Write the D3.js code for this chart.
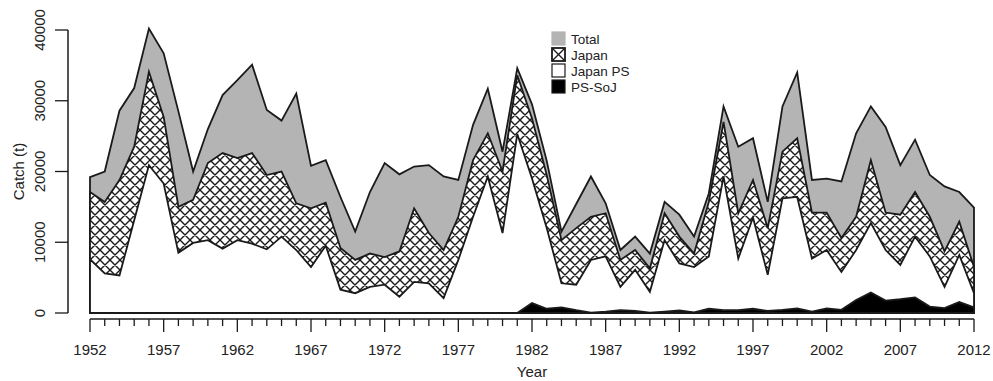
<!DOCTYPE html>
<html>
<head>
<meta charset="utf-8">
<script src="https://cdn.jsdelivr.net/npm/d3@7/dist/d3.min.js"></script>
<style>
  html, body { margin: 0; padding: 0; background: #fff; }
  svg { display: block; }
  text { font-family: "Liberation Sans", Arial, Helvetica, sans-serif; fill: #222; }
</style>
</head>
<body>
<svg id="chart" width="993" height="381"></svg>
<script>
// Catch by year (tonnes)
const years = d3.range(1952, 2013);

const total = [
  19200, 20000, 28600, 31800, 40200, 36700, 28500, 20000, 26000, 30800,
  32900, 35100, 28700, 27200, 31000, 20800, 21600, 16400, 11500, 17100,
  21200, 19600, 20700, 20900, 19300, 18800, 26600, 31700, 22800, 34600,
  29500, 21500, 11500, 15400, 19300, 15500, 8900, 10800, 8400, 15700,
  13900, 10800, 16900, 29200, 23500, 24700, 15700, 29200, 34000, 18800,
  19000, 18600, 25400, 29200, 26300, 20900, 24500, 19500, 17900, 17100,
  14900
];

const japan = [
  17100, 15700, 18800, 23500, 34100, 27700, 15000, 16000, 21200, 22600,
  21900, 22600, 19500, 20000, 15500, 14800, 15600, 9200, 7500, 8400,
  7900, 8700, 14800, 11300, 8900, 13600, 21600, 25400, 20000, 33600,
  27500, 19500, 10300, 12000, 13600, 14100, 7500, 8900, 6300, 14100,
  10800, 8400, 15700, 27000, 14100, 18800, 12000, 22800, 24700, 14200,
  14200, 10600, 13600, 21600, 14200, 13900, 17100, 13600, 8700, 12900,
  6500
];

const japanPS = [
  7600, 5600, 5300, 13100, 20900, 18300, 8500, 9900, 10300, 9100,
  10300, 9800, 9000, 10800, 8900, 6500, 9500, 3300, 2800, 3700,
  4000, 2300, 4400, 4200, 2100, 7500, 13600, 19300, 11300, 25300,
  19000, 12000, 4200, 4000, 7500, 8000, 3700, 6100, 3000, 10300,
  7000, 6500, 8000, 19300, 7700, 13500, 5400, 16200, 16400, 7700,
  8900, 5800, 8900, 12700, 8900, 6800, 10800, 8000, 3700, 8200,
  2800
];

const psSoJ = [
  0, 0, 0, 0, 0, 0, 0, 0, 0, 0,
  0, 0, 0, 0, 0, 0, 0, 0, 0, 0,
  0, 0, 0, 0, 0, 0, 0, 0, 0, 0,
  1400, 600, 800, 400, 50, 200, 400, 300, 50, 200,
  350, 100, 600, 400, 400, 600, 300, 450, 650, 200,
  650, 450, 1850, 2900, 1750, 1950, 2200, 900, 700, 1550,
  800
];

const yTicks = [0, 10000, 20000, 30000, 40000];
const xLabelYears = d3.range(1952, 2013, 5);
const legendLabels = ["Total", "Japan", "Japan PS", "PS-SoJ"];

const svg = d3.select("#chart");

const x = d3.scaleLinear().domain([1952, 2012]).range([90, 974]);
const y = d3.scaleLinear().domain([0, 40000]).range([313, 30]);

// cross-hatch fill
const defs = svg.append("defs");
const pat = defs.append("pattern")
  .attr("id", "xhatch")
  .attr("patternUnits", "userSpaceOnUse")
  .attr("width", 10).attr("height", 10);
pat.append("rect").attr("width", 10).attr("height", 10).attr("fill", "#fff");
pat.append("path")
  .attr("d", "M-2,-2L12,12M12,-2L-2,12M-2,8L2,12M8,-2L12,2M-2,2L2,-2M8,12L12,8")
  .attr("stroke", "#1a1a1a").attr("stroke-width", 1.4).attr("fill", "none");

const area = vals => d3.area()
  .x((d, i) => x(years[i]))
  .y0(y(0))
  .y1(d => y(d))(vals);

const layers = [
  { vals: total, fill: "#b4b4b4" },
  { vals: japan, fill: "url(#xhatch)" },
  { vals: japanPS, fill: "#fff" },
  { vals: psSoJ, fill: "#000" }
];

layers.forEach(l => {
  svg.append("path")
    .attr("d", area(l.vals) + "Z")
    .attr("fill", l.fill)
    .attr("stroke", "#1a1a1a")
    .attr("stroke-width", 1.8)
    .attr("stroke-linejoin", "miter");
});

// x axis, set a little below the data baseline
const xAxisG = svg.append("g").attr("transform", "translate(0,319)");
xAxisG.append("line")
  .attr("x1", x(1952)).attr("x2", x(2012))
  .attr("stroke", "#1a1a1a").attr("stroke-width", 1.5);
xAxisG.selectAll("line.tick").data(years).enter().append("line")
  .attr("class", "tick")
  .attr("x1", d => x(d)).attr("x2", d => x(d))
  .attr("y1", 0)
  .attr("y2", d => xLabelYears.includes(d) ? 13 : 7)
  .attr("stroke", "#1a1a1a").attr("stroke-width", 1.3);
xAxisG.selectAll("text").data(xLabelYears).enter().append("text")
  .attr("x", d => x(d)).attr("y", 36)
  .attr("text-anchor", "middle")
  .attr("font-size", 15)
  .text(d => d);

svg.append("text")
  .attr("x", (x(1952) + x(2012)) / 2).attr("y", 377)
  .attr("text-anchor", "middle").attr("font-size", 15)
  .text("Year");

// y axis
const yAxisG = svg.append("g").attr("transform", "translate(68,0)");
yAxisG.append("line")
  .attr("y1", y(0)).attr("y2", y(40000))
  .attr("stroke", "#1a1a1a").attr("stroke-width", 1.5);
yAxisG.selectAll("line.tick").data(yTicks).enter().append("line")
  .attr("class", "tick")
  .attr("x1", 0).attr("x2", -13)
  .attr("y1", d => y(d)).attr("y2", d => y(d))
  .attr("stroke", "#1a1a1a").attr("stroke-width", 1.3);
yAxisG.selectAll("text").data(yTicks).enter().append("text")
  .attr("transform", d => `translate(-23,${y(d)}) rotate(-90)`)
  .attr("text-anchor", "middle")
  .attr("font-size", 15)
  .text(d => d);

svg.append("text")
  .attr("transform", `translate(24,${(y(0) + y(40000)) / 2}) rotate(-90)`)
  .attr("text-anchor", "middle").attr("font-size", 15)
  .text("Catch (t)");

// legend
const leg = svg.append("g").attr("transform", "translate(552,32)");
const legFills = ["#b4b4b4", "#fff", "#fff", "#000"];
legendLabels.forEach((lab, i) => {
  const g = leg.append("g").attr("transform", `translate(0,${i * 16})`);
  g.append("rect")
    .attr("width", 13).attr("height", 13)
    .attr("fill", legFills[i])
    .attr("stroke", i === 0 ? "#b4b4b4" : "#1a1a1a")
    .attr("stroke-width", i === 1 ? 1.8 : 1.2);
  if (i === 1) {
    g.append("path").attr("d", "M0,0L13,13M13,0L0,13")
      .attr("stroke", "#1a1a1a").attr("stroke-width", 1.4);
  }
  g.append("text")
    .attr("x", 19).attr("y", 11.5)
    .attr("font-size", 13.5)
    .text(lab);
});
</script>
</body>
</html>
